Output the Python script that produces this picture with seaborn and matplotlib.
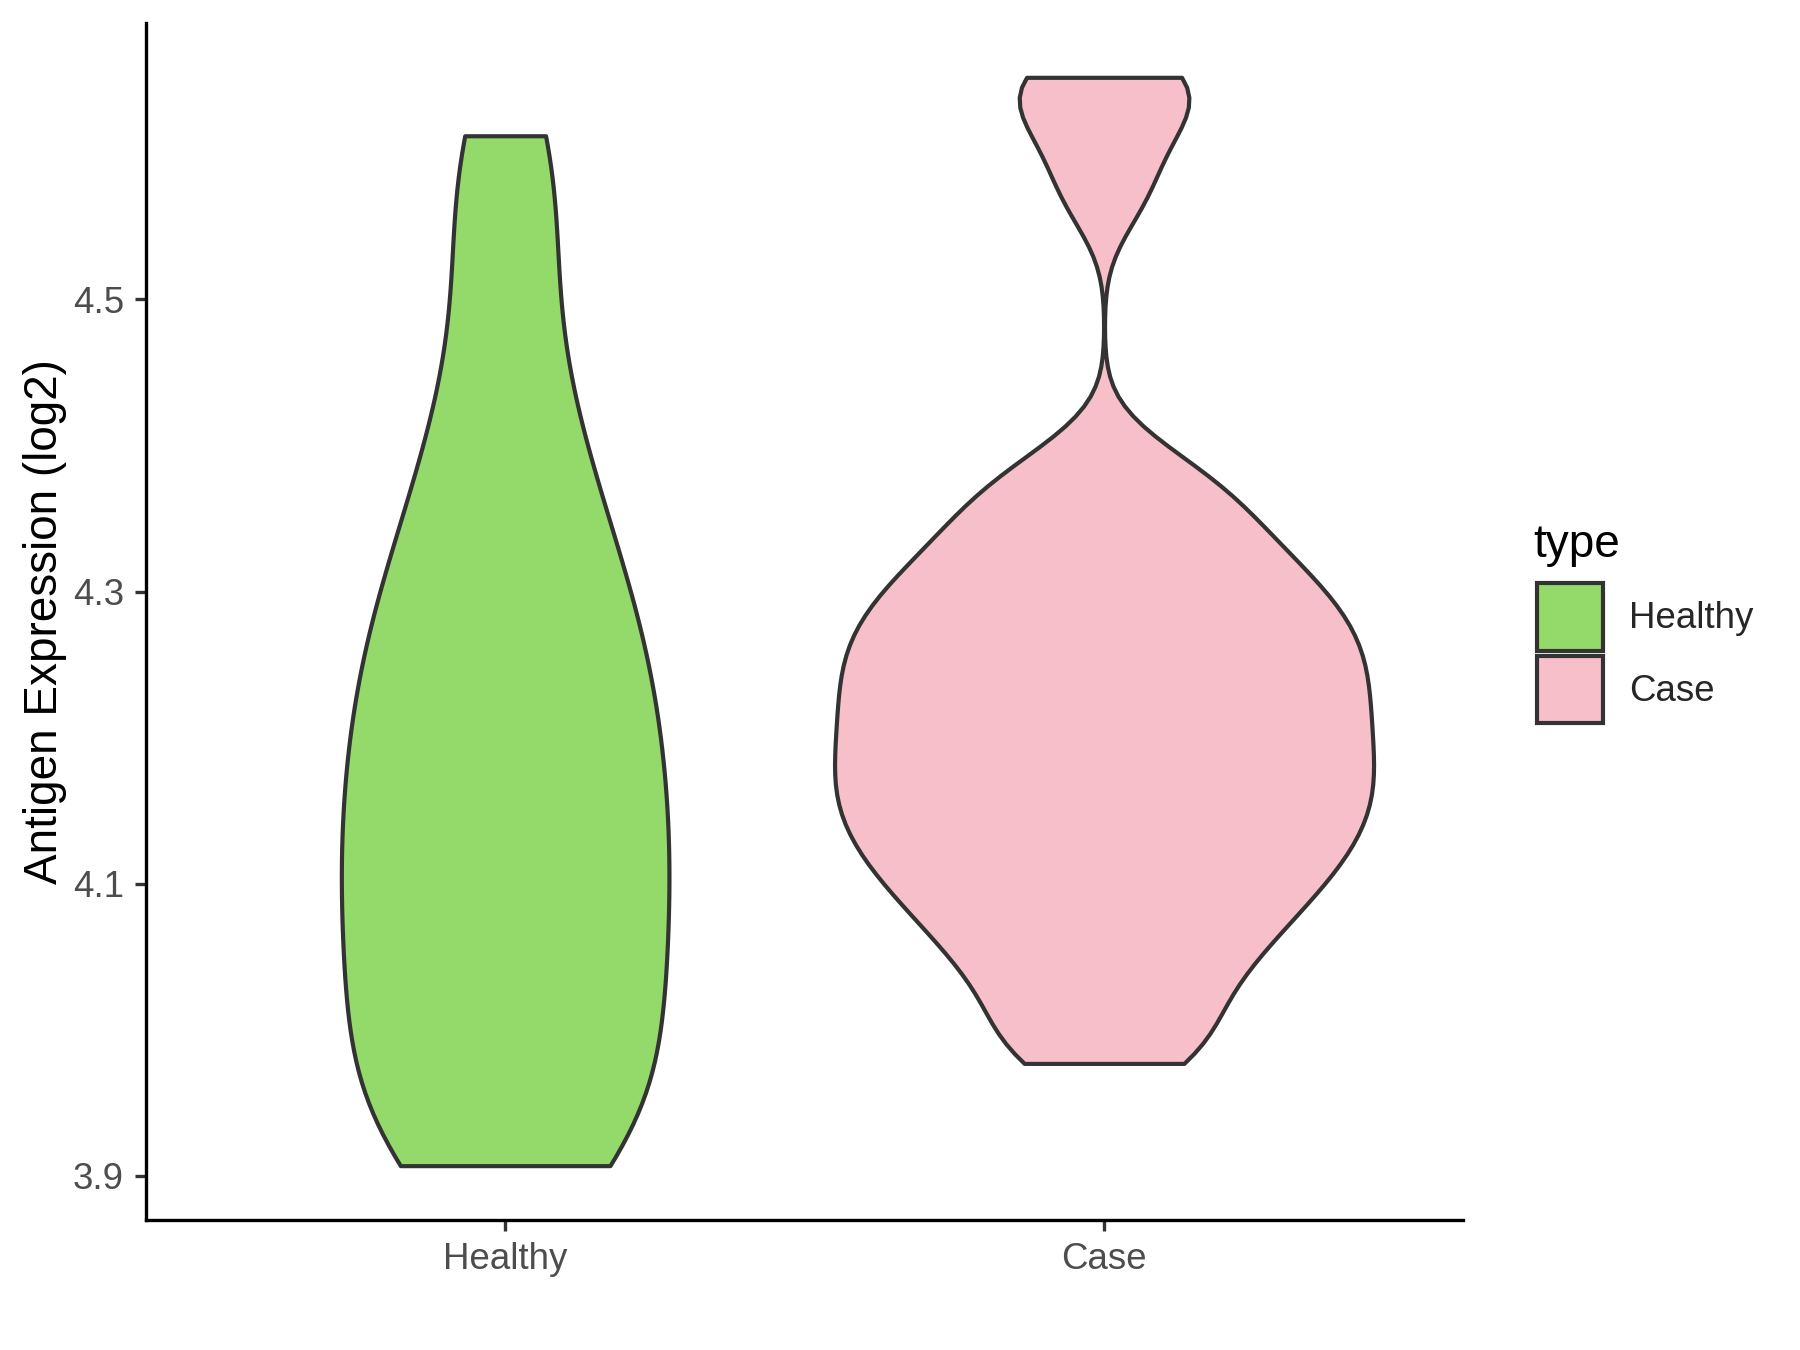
import numpy as np
import pandas as pd
import matplotlib
matplotlib.use("Agg")
import matplotlib.pyplot as plt
from matplotlib.patches import Patch
import seaborn as sns

categories = ["Healthy", "Case"]
healthy_values = [3.907, 3.912, 3.925, 3.940, 3.957, 3.975, 3.993, 4.017, 4.034, 4.051,
                  4.068, 4.084, 4.101, 4.118, 4.135, 4.152, 4.169, 4.187, 4.205, 4.223,
                  4.241, 4.260, 4.280, 4.300, 4.322, 4.350, 4.380, 4.415, 4.460, 4.525,
                  4.585, 4.612]
case_values = [3.977, 3.991, 4.015, 4.034, 4.051, 4.064, 4.077, 4.089, 4.100, 4.109,
               4.119, 4.128, 4.137, 4.146, 4.154, 4.162, 4.171, 4.179, 4.188, 4.196,
               4.205, 4.214, 4.222, 4.231, 4.240, 4.248, 4.257, 4.266, 4.274, 4.284,
               4.293, 4.303, 4.314, 4.325, 4.339, 4.355, 4.370, 4.390, 4.572, 4.615,
               4.645, 4.652]
colors = {"Healthy": "#93DA6A", "Case": "#F7BFCA"}
y_ticks = [3.9, 4.1, 4.3, 4.5]
y_tick_labels = ["3.9", "4.1", "4.3", "4.5"]

sns.set_style("ticks")
plt.rcParams["font.family"] = ["Liberation Sans", "DejaVu Sans"]

fig = plt.figure(figsize=(6, 4.5), dpi=300)
ax = fig.add_axes([0.081, 0.0963, 0.732, 0.887])

df_h = pd.DataFrame({"type": "Healthy", "value": healthy_values})
df_c = pd.DataFrame({"type": "Case", "value": case_values})

common = dict(x="type", y="value", hue="type", order=categories, hue_order=categories,
              palette=colors, cut=0, inner=None, density_norm="width", linewidth=1.0,
              linecolor="#333333", saturation=1, legend=False, ax=ax)
sns.violinplot(data=df_h, bw_method=0.36, width=0.547, **common)
sns.violinplot(data=df_c, bw_method=0.175, width=0.9, **common)

ax.set_xlim(-0.6, 1.6)
ax.set_ylim(3.8698, 4.6895)
ax.set_yticks(y_ticks)
ax.set_yticklabels(y_tick_labels)
ax.set_xlabel("")
ax.set_ylabel("Antigen Expression (log2)", fontsize=11, color="black", labelpad=1.5)
for s in ["top", "right"]:
    ax.spines[s].set_visible(False)
for s in ["left", "bottom"]:
    ax.spines[s].set_linewidth(0.8)
    ax.spines[s].set_color("black")
ax.tick_params(axis="both", length=2.75, width=0.8, color="#333333", labelsize=8.8,
               labelcolor="#4D4D4D", pad=2.5)

fig.text(1336 / 1568, 1 - 485 / 1176, "type", fontsize=11, color="black",
         ha="left", va="baseline")
handles = [Patch(facecolor=colors[c], edgecolor="#333333", linewidth=1.0, label=c)
           for c in categories]
fig.legend(handles=handles, loc="upper left", bbox_to_anchor=(1339 / 1568, 1 - 508 / 1176),
           frameon=False, fontsize=8.8, handlelength=1.8, handleheight=2.45,
           handletextpad=0.7, labelspacing=0.15, borderpad=0, borderaxespad=0)

fig.savefig("out.png", dpi=300)
